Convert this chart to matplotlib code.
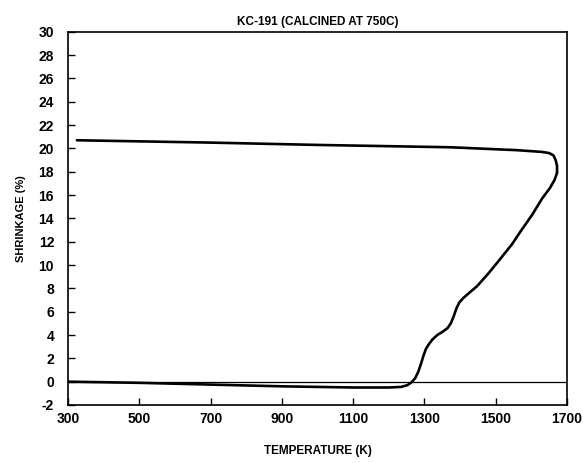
import matplotlib
matplotlib.use("Agg")
import matplotlib.pyplot as plt

plt.rcParams['font.family'] = ['Liberation Sans', 'DejaVu Sans']
plt.rcParams['font.weight'] = 'bold'
plt.rcParams['axes.unicode_minus'] = False

# heating branch (temperature K, shrinkage %)
heat_t = [300, 500, 700, 900, 1100, 1200, 1235, 1252, 1264, 1274, 1282, 1290,
          1297, 1304, 1312, 1322, 1336, 1352, 1365, 1374, 1382, 1390, 1398,
          1410, 1425, 1448, 1480, 1512, 1546, 1570, 1602, 1630, 1652, 1665, 1672]
heat_s = [0.0, -0.1, -0.25, -0.4, -0.5, -0.5, -0.45, -0.3, -0.05, 0.3, 0.8, 1.5,
          2.2, 2.8, 3.2, 3.6, 4.0, 4.3, 4.6, 5.0, 5.6, 6.3, 6.8,
          7.2, 7.6, 8.2, 9.3, 10.5, 11.8, 12.9, 14.3, 15.7, 16.6, 17.3, 17.9]

# cooling branch
cool_t = [1672, 1672, 1668, 1662, 1650, 1630, 1560, 1372, 1000, 700, 325]
cool_s = [17.9, 18.5, 19.0, 19.4, 19.6, 19.7, 19.85, 20.1, 20.3, 20.5, 20.7]

x_ticks = [300, 500, 700, 900, 1100, 1300, 1500, 1700]
y_ticks = list(range(-2, 31, 2))

fig = plt.figure(figsize=(5.83, 4.63), dpi=100)
ax = fig.add_axes([0.1166, 0.1253, 0.856, 0.806])

ax.axhline(0, color='black', lw=0.9)
ax.plot(heat_t, heat_s, color='black', lw=1.9, solid_capstyle='round',
        solid_joinstyle='round')
ax.plot(cool_t, cool_s, color='black', lw=1.9, solid_capstyle='round',
        solid_joinstyle='round')

ax.set_xlim(300, 1700)
ax.set_ylim(-2, 30)
ax.set_xticks(x_ticks)
ax.set_yticks(y_ticks)
ax.tick_params(direction='in', length=5, width=1, labelsize=10)
ax.tick_params(axis='y', pad=10)
ax.tick_params(axis='x', pad=5)
for s in ax.spines.values():
    s.set_linewidth(1.2)

ax.set_title('KC-191 (CALCINED AT 750C)', fontsize=8.5, fontweight='bold', pad=5)
ax.set_xlabel('TEMPERATURE (K)', fontsize=8.5, fontweight='bold', labelpad=14)
ax.set_ylabel('SHRINKAGE (%)', fontsize=8, fontweight='bold', labelpad=9)

fig.savefig('out.png', dpi=100)
